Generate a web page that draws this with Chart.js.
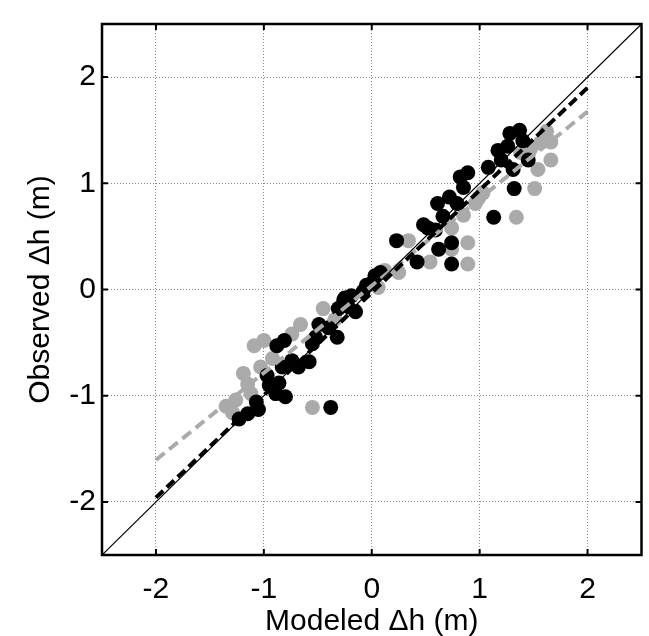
<!DOCTYPE html>
<html lang="en">
<head>
    <meta charset="UTF-8">
    <title>Observed vs Modeled dh</title>
    <script src="https://cdn.jsdelivr.net/npm/chart.js@4.4.0/dist/chart.umd.min.js"></script>
    <style>
        body { margin: 0; background: #fff; }
        #container { width: 649px; height: 636px; }
    </style>
</head>
<body>
    <div id="container">
        <canvas id="scatterChart"></canvas>
    </div>

    <script>
        // black dots (first model)
        const blackX = [1.28, 1.37, 1.40, 1.26, 1.17, 1.20, 1.45, 1.08, 1.31, 0.89, 0.82, 0.85, 1.32, 0.72, 0.79,
            0.61, 0.66, 1.13, 0.48, 0.52, 0.59, 0.23, 0.74, 0.62, 0.42, 0.74, 0.08, 0.03, -0.05, 0.00,
            -0.08, -0.25, -0.19, -0.26, -0.15, -0.31, -0.22, -0.49, -0.40, -0.32, -0.52, -0.55, -0.81, -0.88, -0.74,
            -0.68, -0.58, -0.83, -0.97, -0.95, -0.86, -0.80, -0.89, -1.07, -1.05, -1.15, -1.23, -0.38];
        const blackY = [1.47, 1.50, 1.40, 1.35, 1.31, 1.22, 1.22, 1.15, 1.13, 1.10, 1.06, 0.96, 0.95, 0.87, 0.81,
            0.81, 0.69, 0.68, 0.61, 0.58, 0.56, 0.46, 0.44, 0.38, 0.26, 0.24, 0.16, 0.13, 0.04, 0.06,
            -0.02, -0.08, -0.06, -0.10, -0.21, -0.18, -0.16, -0.33, -0.36, -0.45, -0.45, -0.51, -0.48, -0.53, -0.67,
            -0.73, -0.68, -0.73, -0.81, -0.90, -0.88, -1.01, -0.98, -1.06, -1.13, -1.17, -1.22, -1.11];

        // gray dots (second model)
        const grayX = [1.62, 1.66, 1.56, 1.47, 1.66, 1.54, 1.51, 1.34, 1.03, 0.99, 0.96, 0.85, 0.74, 0.89, 0.89,
            0.74, 0.54, 0.34, 0.25, 0.06, 0.12, -0.45, -0.34, -0.66, -0.74, -1.09, -1.00, -0.92, -1.03, -1.19,
            -1.15, -1.12, -1.26, -1.35, -1.29, -0.55, 1.38];
        const grayY = [1.49, 1.39, 1.38, 1.32, 1.22, 1.13, 0.95, 0.68, 0.91, 0.86, 0.81, 0.70, 0.58, 0.44, 0.24,
            0.38, 0.26, 0.46, 0.16, 0.02, 0.18, -0.18, -0.28, -0.33, -0.42, -0.53, -0.48, -0.65, -0.73, -0.79,
            -0.89, -0.98, -1.04, -1.10, -1.16, -1.11, 1.29];

        // fitted lines and 1:1 line
        const fitX = [-2, 2];
        const blackFitY = [-1.96, 1.90];
        const grayFitY = [-1.605, 1.675];
        const oneToOne = [-2.5, 2.5];

        const tickValues = [-2, -1, 0, 1, 2];

        const toPoints = (xs, ys) => xs.map((x, i) => ({ x: x, y: ys[i] }));

        const FONT = "'Liberation Sans', Arial, sans-serif";

        // box round the plot with inward tick marks, matlab style
        const framePlugin = {
            id: 'frame',
            afterDatasetsDraw(chart) {
                const { ctx, chartArea: a, scales } = chart;
                ctx.save();
                ctx.setLineDash([]);
                ctx.strokeStyle = '#000';
                ctx.lineWidth = 2;
                tickValues.forEach(v => {
                    const px = scales.x.getPixelForValue(v);
                    const py = scales.y.getPixelForValue(v);
                    ctx.beginPath();
                    ctx.moveTo(px, a.bottom); ctx.lineTo(px, a.bottom - 6);
                    ctx.moveTo(px, a.top); ctx.lineTo(px, a.top + 6);
                    ctx.moveTo(a.left, py); ctx.lineTo(a.left + 6, py);
                    ctx.moveTo(a.right, py); ctx.lineTo(a.right - 6, py);
                    ctx.stroke();
                });
                ctx.lineWidth = 2.5;
                ctx.strokeRect(a.left, a.top, a.right - a.left, a.bottom - a.top);
                ctx.restore();
            }
        };

        const ctx = document.getElementById('scatterChart').getContext('2d');

        const chart = new Chart(ctx, {
            type: 'scatter',
            data: {
                datasets: [
                    {
                        type: 'line',
                        data: toPoints(oneToOne, oneToOne),
                        borderColor: '#000',
                        borderWidth: 1.2,
                        pointRadius: 0,
                        order: 1
                    },
                    {
                        type: 'line',
                        data: toPoints(fitX, blackFitY),
                        borderColor: '#000',
                        borderWidth: 4,
                        borderDash: [10, 5],
                        pointRadius: 0,
                        order: 2
                    },
                    {
                        type: 'line',
                        data: toPoints(fitX, grayFitY),
                        borderColor: '#aaaaaa',
                        borderWidth: 4,
                        borderDash: [11, 6],
                        pointRadius: 0,
                        order: 3
                    },
                    {
                        data: toPoints(blackX, blackY),
                        backgroundColor: '#000',
                        borderWidth: 0,
                        pointRadius: 7.5,
                        order: 4
                    },
                    {
                        data: toPoints(grayX, grayY),
                        backgroundColor: '#aaaaaa',
                        borderWidth: 0,
                        pointRadius: 7.5,
                        order: 5
                    }
                ]
            },
            options: {
                responsive: true,
                maintainAspectRatio: false,
                animation: false,
                layout: { padding: { top: 13, right: 5, left: 0, bottom: 0 } },
                plugins: {
                    legend: { display: false },
                    tooltip: { enabled: false }
                },
                scales: {
                    x: {
                        type: 'linear',
                        min: -2.5,
                        max: 2.5,
                        afterBuildTicks: s => { s.ticks = tickValues.map(v => ({ value: v })); },
                        afterFit: s => { s.height = 81; },
                        grid: { color: '#888', lineWidth: 1, drawTicks: false },
                        border: { display: false, dash: [1, 2] },
                        ticks: {
                            color: '#000',
                            padding: 17,
                            maxRotation: 0,
                            font: { family: FONT, size: 30 }
                        },
                        title: {
                            display: true,
                            text: 'Modeled \u0394h (m)',
                            color: '#000',
                            padding: { bottom: -2 },
                            font: { family: FONT, size: 30, lineHeight: 1.1 }
                        }
                    },
                    y: {
                        type: 'linear',
                        min: -2.5,
                        max: 2.5,
                        afterBuildTicks: s => { s.ticks = tickValues.map(v => ({ value: v })); },
                        afterFit: s => { s.width = 102; },
                        grid: { color: '#888', lineWidth: 1, drawTicks: false },
                        border: { display: false, dash: [1, 2] },
                        ticks: {
                            color: '#000',
                            padding: 6,
                            font: { family: FONT, size: 30 }
                        },
                        title: {
                            display: true,
                            text: 'Observed \u0394h (m)',
                            color: '#000',
                            padding: { top: 24 },
                            font: { family: FONT, size: 30, lineHeight: 1.1 }
                        }
                    }
                }
            },
            plugins: [framePlugin]
        });
    </script>
</body>
</html>
